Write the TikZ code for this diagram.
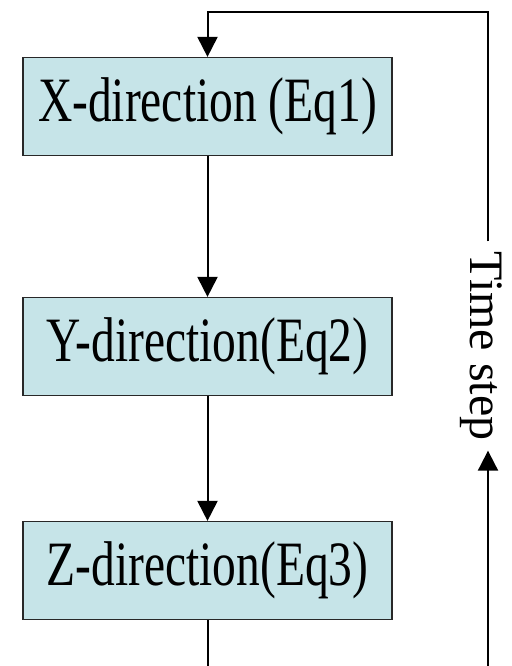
\documentclass[tikz,border=0pt]{standalone}
\usepackage{fontspec}
\setmainfont{Liberation Serif}
\usetikzlibrary{arrows.meta}
\definecolor{boxfill}{RGB}{198,228,232}
\definecolor{boxline}{RGB}{40,40,40}
\tikzset{
  stepbox/.style={draw=boxline, line width=1.2pt, fill=boxfill, minimum width=369pt, minimum height=98pt, inner sep=0pt},
  flow/.style={line width=2pt, -{Triangle[length=20pt,width=20pt]}},
  plain/.style={line width=2pt},
}
\newcommand{\boxtext}[1]{\scalebox{1}[1.33]{\fontsize{47.5}{48}\selectfont #1}}
\begin{document}
\begin{tikzpicture}[x=1pt,y=-1pt]
\useasboundingbox (0,0) rectangle (511,666);
\node[stepbox] (X) at (207.5,106.5) {\boxtext{X-direction (Eq1)}};
\node[stepbox] (Y) at (207.5,346.5) {\boxtext{Y-direction(Eq2)}};
\node[stepbox] (Z) at (207.5,570.5) {\boxtext{Z-direction(Eq3)}};
\node[rotate=-90, inner sep=0pt, font=\fontsize{48}{48}\selectfont] (ts) at (481,346) {Time step};
\coordinate (zb) at (207.5,666);
\coordinate (rb) at (488,666);
\coordinate (rt) at (488,12);
\coordinate (lt) at (207.5,12);
\draw[flow] (X) -- (Y);
\draw[flow] (Y) -- (Z);
\draw[plain] (Z) -- (zb);
\draw[flow] (rb) -- ([yshift=-10pt]rb |- ts.east);
\draw[flow] ([yshift=10pt]rt |- ts.west) -- (rt) -- (lt) -- (X);
\end{tikzpicture}
\end{document}
